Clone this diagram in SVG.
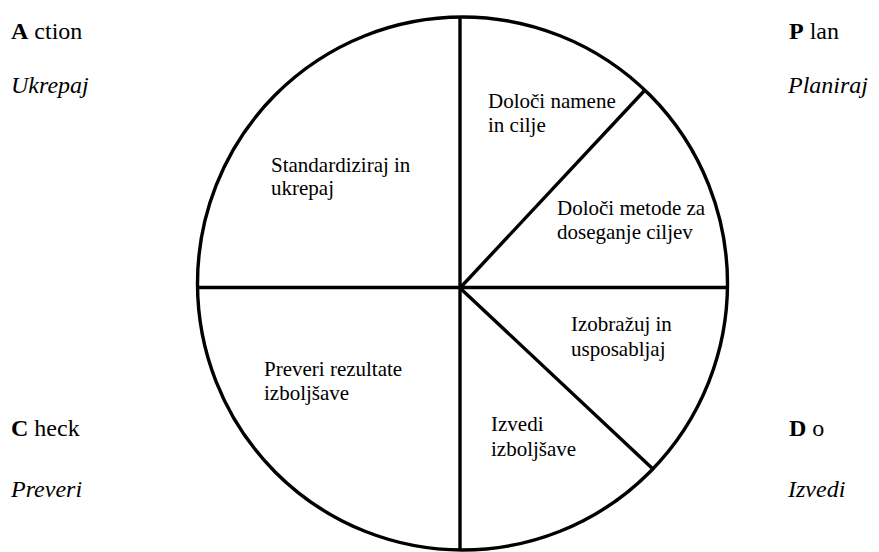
<svg xmlns="http://www.w3.org/2000/svg" width="879" height="552" viewBox="0 0 879 552">
<style>
.ln{stroke:#000;stroke-width:3.4;fill:none;stroke-linecap:butt}
.t{font-size:21px}
.c{font-size:24px}
.b{font-weight:bold}
.i{font-style:italic}
</style>
<rect width="879" height="552" fill="#fff"/>
<g id="wheel">
<ellipse class="ln" cx="462.5" cy="283.5" rx="265" ry="266.5"/>
</g>
<g id="connectors">
<line class="ln" x1="460" y1="17" x2="460" y2="550"/>
<line class="ln" x1="197.5" y1="287.5" x2="727.5" y2="287.5"/>
<line class="ln" x1="460" y1="288" x2="645" y2="90"/>
<line class="ln" x1="460" y1="288" x2="654" y2="470"/>
</g>
<g font-family="Liberation Serif, Times New Roman, serif" fill="#000">
<g id="seg-plan-1"><text class="t" x="488" y="108">Določi namene</text><text class="t" x="488" y="132">in cilje</text></g>
<g id="seg-plan-2"><text class="t" x="557" y="215">Določi metode za</text><text class="t" x="557" y="239">doseganje ciljev</text></g>
<g id="seg-do-1"><text class="t" x="571" y="331">Izobražuj in</text><text class="t" x="571" y="356">usposabljaj</text></g>
<g id="seg-do-2"><text class="t" x="491" y="431">Izvedi</text><text class="t" x="491" y="456">izboljšave</text></g>
<g id="seg-check"><text class="t" x="264" y="376">Preveri rezultate</text><text class="t" x="264" y="400">izboljšave</text></g>
<g id="seg-action"><text class="t" x="271" y="172">Standardiziraj in</text><text class="t" x="271" y="195">ukrepaj</text></g>
<g id="label-action"><text class="c" x="11" y="39"><tspan class="b">A</tspan> ction</text><text class="c i" x="11" y="93">Ukrepaj</text></g>
<g id="label-plan"><text class="c" x="789" y="39"><tspan class="b">P</tspan> lan</text><text class="c i" x="788" y="93">Planiraj</text></g>
<g id="label-check"><text class="c" x="11" y="436"><tspan class="b">C</tspan> heck</text><text class="c i" x="11" y="497">Preveri</text></g>
<g id="label-do"><text class="c" x="789" y="436"><tspan class="b">D</tspan> o</text><text class="c i" x="788" y="497">Izvedi</text></g>
</g>
</svg>
